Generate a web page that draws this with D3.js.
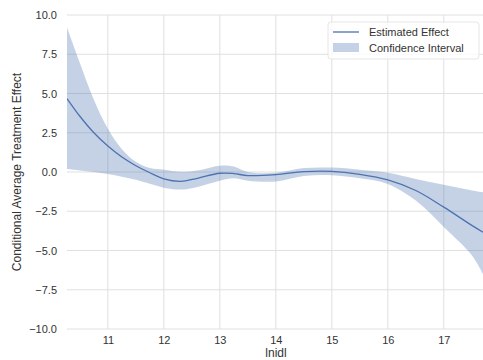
<!DOCTYPE html>
<html>
<head>
<meta charset="utf-8">
<script src="https://cdn.jsdelivr.net/npm/d3@7"></script>
<style>
  body { margin: 0; background: #fff; }
  svg { font-family: "Liberation Sans", Arial, sans-serif; }
</style>
</head>
<body>
<div id="chart"></div>
<script>
// values
const xs     = [10.27, 10.5, 10.75, 11, 11.25, 11.5, 11.75, 12, 12.3, 12.6, 13, 13.25, 13.5, 14, 14.5, 15, 15.5, 16, 16.5, 17, 17.5, 17.7];
const effect = [4.68, 3.55, 2.5, 1.65, 0.95, 0.4, -0.05, -0.44, -0.6, -0.4, -0.08, -0.1, -0.23, -0.17, 0.02, 0.04, -0.15, -0.5, -1.18, -2.24, -3.4, -3.83];
const upper  = [9.2, 6.95, 4.6, 2.75, 1.45, 0.65, 0.25, 0.15, 0.02, 0.1, 0.4, 0.35, 0.0, -0.05, 0.25, 0.28, 0.15, -0.05, -0.44, -0.82, -1.18, -1.29];
const lower  = [0.19, 0.1, 0.0, -0.13, -0.3, -0.5, -0.75, -1.0, -1.12, -0.95, -0.55, -0.4, -0.55, -0.6, -0.25, -0.2, -0.4, -0.76, -1.82, -3.5, -5.3, -6.5];
const xTicks = [11, 12, 13, 14, 15, 16, 17];
const yTicks = [-10, -7.5, -5, -2.5, 0, 2.5, 5, 7.5, 10];

const W = 483, H = 360;
const margin = { top: 15, right: 0, bottom: 31, left: 67 };
const width = W - margin.left - margin.right;
const height = H - margin.top - margin.bottom;

const svg = d3.select('#chart').append('svg')
  .attr('width', W)
  .attr('height', H);

const x = d3.scaleLinear().domain([10.27, 17.7]).range([0, width]);
const y = d3.scaleLinear().domain([-10, 10]).range([height, 0]);

const g = svg.append('g')
  .attr('transform', `translate(${margin.left},${margin.top})`);

svg.append('defs').append('clipPath').attr('id', 'clip')
  .append('rect').attr('width', width).attr('height', height);

// grid
g.append('g').selectAll('line').data(yTicks).enter().append('line')
  .attr('x1', 0).attr('x2', width)
  .attr('y1', d => y(d)).attr('y2', d => y(d))
  .attr('stroke', '#e0e0e0').attr('stroke-width', 1);
g.append('g').selectAll('line').data(xTicks).enter().append('line')
  .attr('x1', d => x(d)).attr('x2', d => x(d))
  .attr('y1', 0).attr('y2', height)
  .attr('stroke', '#e0e0e0').attr('stroke-width', 1);

const pts = xs.map((v, i) => ({ x: v, m: effect[i], lo: lower[i], hi: upper[i] }));

const area = d3.area()
  .x(d => x(d.x)).y0(d => y(d.lo)).y1(d => y(d.hi))
  .curve(d3.curveCatmullRom.alpha(0.5));
const line = d3.line()
  .x(d => x(d.x)).y(d => y(d.m))
  .curve(d3.curveCatmullRom.alpha(0.5));

const plot = g.append('g').attr('clip-path', 'url(#clip)');
plot.append('path').datum(pts)
  .attr('d', area)
  .attr('fill', '#4c72b0').attr('fill-opacity', 0.32);
plot.append('path').datum(pts)
  .attr('d', line)
  .attr('fill', 'none').attr('stroke', '#4c72b0').attr('stroke-width', 1.3);

// axes (no spines, seaborn whitegrid look)
const xAxis = g.append('g')
  .attr('transform', `translate(0,${height})`)
  .call(d3.axisBottom(x).tickValues(xTicks).tickSize(0).tickPadding(7).tickFormat(d3.format('d')));
const yAxis = g.append('g')
  .call(d3.axisLeft(y).tickValues(yTicks).tickSize(0).tickPadding(10).tickFormat(d3.format('.1f')));
[xAxis, yAxis].forEach(a => {
  a.select('.domain').remove();
  a.selectAll('text').attr('fill', '#333').style('font-size', '11px')
    .style('font-family', '"Liberation Sans", Arial, sans-serif');
});
yAxis.selectAll('text').text(d => d3.format('.1f')(d).replace('-', '\u2212'));

svg.append('text')
  .attr('x', 276).attr('y', 357)
  .attr('text-anchor', 'middle')
  .attr('fill', '#333').style('font-size', '12px')
  .text('lnidl');
svg.append('text')
  .attr('transform', `translate(21,${margin.top + height / 2}) rotate(-90)`)
  .attr('text-anchor', 'middle')
  .attr('fill', '#333').style('font-size', '12px')
  .text('Conditional Average Treatment Effect');

// legend
const lg = svg.append('g').attr('transform', 'translate(328,22)');
lg.append('rect')
  .attr('width', 151).attr('height', 37).attr('rx', 3)
  .attr('fill', '#fff').attr('fill-opacity', 0.8)
  .attr('stroke', '#e6e6e6');
lg.append('line')
  .attr('x1', 5).attr('x2', 31).attr('y1', 10).attr('y2', 10)
  .attr('stroke', '#4c72b0').attr('stroke-width', 1.3);
lg.append('rect')
  .attr('x', 5).attr('y', 21).attr('width', 26).attr('height', 9)
  .attr('fill', '#4c72b0').attr('fill-opacity', 0.32);
lg.append('text').attr('x', 41).attr('y', 14)
  .attr('fill', '#333').style('font-size', '11px').text('Estimated Effect');
lg.append('text').attr('x', 41).attr('y', 30)
  .attr('fill', '#333').style('font-size', '11px').text('Confidence Interval');
</script>
</body>
</html>
